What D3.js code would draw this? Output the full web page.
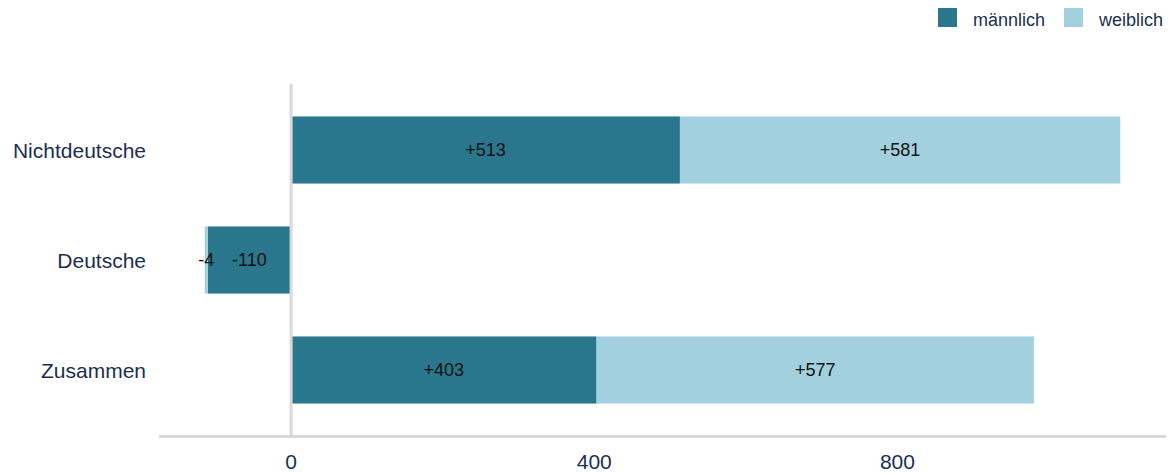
<!DOCTYPE html>
<html>
<head>
<meta charset="utf-8">
<script src="https://cdn.jsdelivr.net/npm/d3@7"></script>
<style>
  body { margin: 0; background: #fff; }
  svg text { font-family: "Liberation Sans", Arial, sans-serif; }
</style>
</head>
<body>
<div class="chart"></div>
<script>
// data
const categories = ['Nichtdeutsche', 'Deutsche', 'Zusammen'];
const maennlich = [513, -110, 403];
const weiblich = [581, -4, 577];
const seriesNames = ['männlich', 'weiblich'];
const xTicks = [0, 400, 800];

const width = 1173, height = 474;
const colors = ['#2a768c', '#a3d0df'];
const textColor = '#1b2f4f';

const svg = d3.select('.chart').append('svg')
    .attr('width', width)
    .attr('height', height);

const x = d3.scaleLinear()
    .domain([-173, 1153])
    .range([160, 1165]);

const y = d3.scaleBand()
    .domain(categories)
    .range([85, 435])
    .paddingInner(0.39)
    .paddingOuter(0.286);

// stack rows: positive values to the right, negative to the left
const rows = categories.map(function(c, i) {
    return { cat: c, vals: [maennlich[i], weiblich[i]] };
});
const segs = [];
rows.forEach(function(r) {
    let pos = 0, neg = 0;
    r.vals.forEach(function(v, k) {
        let x0, x1;
        if (v >= 0) { x0 = pos; x1 = pos + v; pos = x1; }
        else { x0 = neg; x1 = neg + v; neg = x1; }
        segs.push({ cat: r.cat, k: k, v: v, x0: x0, x1: x1 });
    });
});

svg.append('g')
    .selectAll('rect')
    .data(segs)
    .join('rect')
        .attr('x', d => x(Math.min(d.x0, d.x1)))
        .attr('width', d => Math.abs(x(d.x1) - x(d.x0)))
        .attr('y', d => y(d.cat))
        .attr('height', y.bandwidth())
        .attr('fill', d => colors[d.k]);

svg.append('g')
    .selectAll('text')
    .data(segs)
    .join('text')
        .attr('x', d => x((d.x0 + d.x1) / 2))
        .attr('y', d => y(d.cat) + y.bandwidth() / 2)
        .attr('dy', '0.36em')
        .attr('text-anchor', 'middle')
        .style('font-size', '18px')
        .style('fill', '#111')
        .text(d => (d.v > 0 ? '+' : '') + d.v);

// axis lines
svg.append('line')
    .attr('x1', x(0)).attr('x2', x(0))
    .attr('y1', 84).attr('y2', 436)
    .attr('stroke', '#d9d9d9')
    .attr('stroke-width', 3);

svg.append('line')
    .attr('x1', 159).attr('x2', 1166)
    .attr('y1', 436.5).attr('y2', 436.5)
    .attr('stroke', '#d9d9d9')
    .attr('stroke-width', 3);

// tick labels
svg.append('g')
    .selectAll('text')
    .data(xTicks)
    .join('text')
        .attr('x', d => x(d))
        .attr('y', 469)
        .attr('text-anchor', 'middle')
        .style('font-size', '21px')
        .style('fill', textColor)
        .text(d => d);

// category labels
svg.append('g')
    .selectAll('text')
    .data(categories)
    .join('text')
        .attr('x', 146)
        .attr('y', d => y(d) + y.bandwidth() / 2)
        .attr('dy', '0.36em')
        .attr('text-anchor', 'end')
        .style('font-size', '21px')
        .style('fill', textColor)
        .text(d => d);

// legend
const legendX = [938, 1064];
const legend = svg.append('g')
    .selectAll('g')
    .data(seriesNames)
    .join('g')
        .attr('transform', (d, i) => 'translate(' + legendX[i] + ',8)');

legend.append('rect')
    .attr('width', 19)
    .attr('height', 19)
    .attr('fill', (d, i) => colors[i]);

legend.append('text')
    .attr('x', 35)
    .attr('y', 18)
    .style('font-size', '18px')
    .style('fill', textColor)
    .text(d => d);
</script>
</body>
</html>
